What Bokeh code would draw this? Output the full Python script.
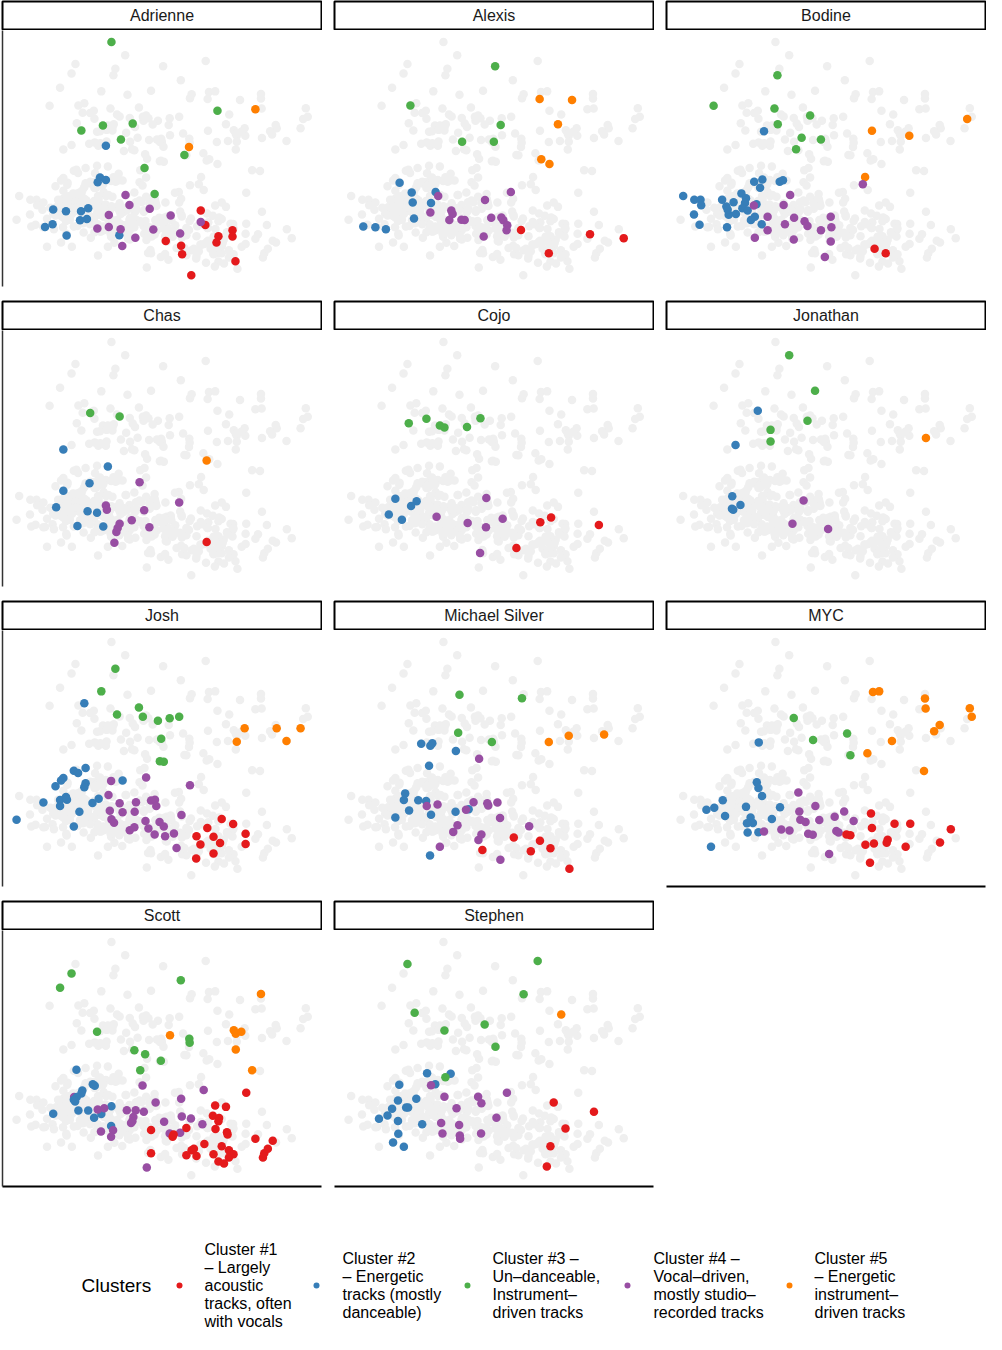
from bokeh.plotting import figure
from bokeh.layouts import row, column
from bokeh.core.properties import value
from bokeh.embed import file_html
from bokeh.resources import INLINE

# (x, y, cluster) per track
adrienne = [
    (33.3, 75.1, 3), (24.1, 48.2, 3), (30.7, 49.7, 3), (39.8, 50.3, 3), (36.2, 45.5, 3),
    (65.7, 54.2, 3), (55.6, 40.8, 3), (43.4, 36.8, 3), (46.5, 28.9, 3),
    (77.3, 54.7, 5), (57.0, 43.2, 5),
    (31.6, 43.6, 2), (29.8, 33.9, 2), (29.1, 32.5, 2), (31.6, 33.2, 2), (15.5, 24.2, 2),
    (19.4, 23.7, 2), (24.0, 23.7, 2), (26.2, 24.6, 2), (23.7, 20.9, 2), (25.8, 21.3, 2),
    (13.0, 18.9, 2), (15.3, 19.7, 2), (19.6, 16.3, 2), (35.7, 16.4, 2),
    (37.6, 28.6, 4), (38.8, 25.6, 4), (45.0, 24.4, 4), (51.4, 22.4, 4), (32.5, 22.5, 4),
    (29.0, 18.4, 4), (32.5, 18.9, 4), (36.1, 18.2, 4), (46.1, 18.1, 4), (40.6, 15.6, 4),
    (36.6, 13.1, 4), (54.3, 16.9, 4),
    (60.6, 23.9, 1), (62.0, 19.5, 1), (49.9, 14.6, 1), (54.6, 13.2, 1), (54.9, 10.6, 1),
    (66.0, 16.1, 1), (65.4, 14.2, 1), (70.3, 17.9, 1), (70.3, 16.0, 1), (71.2, 8.5, 1),
    (57.7, 4.2, 1), (60.6, 20.4, 4),
]
alexis = [
    (49.1, 67.7, 3), (23.2, 55.8, 3), (50.8, 49.9, 3), (39.0, 44.8, 3), (48.7, 44.8, 3),
    (62.7, 57.8, 5), (72.6, 57.5, 5), (68.3, 50.1, 5), (63.2, 39.5, 5), (65.7, 38.0, 5),
    (19.9, 32.3, 2), (23.6, 29.4, 2), (30.9, 29.5, 2), (23.9, 26.3, 2), (29.5, 26.2, 2),
    (24.3, 21.5, 2), (8.8, 19.0, 2), (12.5, 18.8, 2), (15.7, 18.2, 2),
    (31.7, 28.3, 4), (46.0, 27.1, 4), (53.9, 29.5, 4), (29.3, 23.3, 4), (35.7, 23.9, 4),
    (36.1, 22.8, 4), (35.1, 21.0, 4), (38.8, 21.1, 4), (39.8, 21.0, 4), (47.9, 21.7, 4),
    (51.0, 21.8, 4), (51.6, 20.9, 4), (52.8, 19.4, 4), (52.6, 17.9, 4), (45.6, 16.0, 4),
    (57.0, 18.0, 1), (65.5, 10.9, 1), (78.1, 16.7, 1), (88.4, 15.5, 1),
]
bodine = [
    (33.9, 65.0, 3), (14.4, 55.7, 3), (33.0, 54.9, 3), (43.9, 52.8, 3), (34.0, 50.1, 3),
    (41.3, 46.0, 3), (47.2, 45.5, 3), (39.6, 42.5, 3),
    (91.9, 51.7, 5), (62.8, 48.1, 5), (74.2, 46.6, 5), (60.7, 34.1, 5),
    (29.8, 48.0, 2), (26.8, 32.6, 2), (29.3, 33.3, 2), (28.6, 30.8, 2), (34.6, 32.6, 2),
    (35.6, 33.1, 2), (5.1, 28.3, 2), (8.5, 27.2, 2), (10.4, 27.2, 2), (10.6, 25.5, 2),
    (17.0, 27.2, 2), (18.3, 25.1, 2), (20.5, 26.4, 2), (22.9, 29.1, 2), (24.3, 27.6, 2),
    (24.0, 26.2, 2), (23.2, 24.6, 2), (21.2, 22.8, 2), (19.0, 22.6, 2), (18.7, 24.1, 2),
    (24.8, 23.9, 2), (27.5, 25.8, 2), (27.0, 22.0, 2), (25.8, 21.0, 2), (8.4, 22.7, 2),
    (10.1, 19.6, 2), (18.5, 18.8, 2), (29.1, 19.7, 2),
    (60.0, 31.9, 4), (37.8, 28.6, 4), (35.8, 25.6, 4), (26.7, 25.4, 4), (30.9, 22.0, 4),
    (39.0, 21.7, 4), (36.2, 19.7, 4), (42.2, 20.6, 4), (43.1, 19.2, 4), (50.2, 22.0, 4),
    (50.4, 18.8, 4), (47.2, 17.9, 4), (30.9, 17.9, 4), (27.0, 15.6, 4), (38.9, 15.1, 4),
    (50.2, 14.5, 4), (48.4, 9.8, 4),
    (63.6, 12.3, 1), (67.0, 10.9, 1),
]
chas = [
    (26.8, 53.5, 3), (35.8, 52.5, 3),
    (62.4, 39.1, 5),
    (18.6, 42.4, 2), (32.2, 37.3, 2), (26.6, 32.2, 2), (18.6, 29.9, 2), (16.4, 24.9, 2),
    (26.0, 23.7, 2), (28.9, 23.2, 2), (22.9, 19.2, 2), (30.8, 19.0, 2),
    (41.9, 32.5, 4), (54.0, 26.3, 4), (31.6, 25.4, 4), (31.9, 24.1, 4), (43.3, 24.0, 4),
    (39.5, 20.9, 4), (35.8, 19.9, 4), (35.2, 18.6, 4), (34.8, 17.4, 4), (44.9, 18.8, 4),
    (34.2, 14.1, 4),
    (62.4, 14.3, 1),
]
cojo = [
    (22.7, 50.4, 3), (28.1, 51.8, 3), (32.2, 49.7, 3), (33.6, 49.1, 3), (40.5, 49.3, 3),
    (44.6, 51.9, 3),
    (18.6, 27.5, 2), (25.1, 26.7, 2), (23.4, 25.3, 2), (16.6, 22.7, 2), (20.6, 21.1, 2),
    (46.4, 27.7, 4), (31.2, 22.0, 4), (40.7, 20.1, 4), (46.3, 18.8, 4), (51.4, 21.4, 4),
    (44.5, 11.0, 4),
    (62.9, 20.3, 1), (66.2, 21.8, 1), (80.8, 19.5, 1), (55.6, 12.5, 1),
]
jonathan = [
    (37.5, 71.1, 3), (45.4, 60.3, 3), (43.1, 51.2, 3), (31.8, 48.4, 3), (31.8, 44.9, 3),
    (79.3, 45.9, 5),
    (27.9, 54.2, 2), (21.1, 43.8, 2), (20.1, 28.2, 2), (22.6, 25.6, 2), (20.0, 24.4, 2),
    (20.4, 24.1, 2),
    (41.9, 26.9, 4), (38.5, 19.9, 4), (49.4, 18.3, 4),
]
josh = [
    (34.5, 67.0, 3), (30.2, 60.1, 3), (35.0, 53.1, 3), (41.7, 55.2, 3), (42.9, 52.4, 3),
    (47.5, 51.2, 3), (51.1, 51.9, 3), (54.0, 52.4, 3), (48.5, 45.7, 3), (48.1, 38.9, 3),
    (49.3, 38.7, 3),
    (74.0, 48.9, 5), (83.8, 48.9, 5), (91.1, 48.9, 5), (71.6, 44.8, 5), (86.8, 45.0, 5),
    (25.0, 56.5, 2), (21.8, 36.0, 2), (23.1, 35.3, 2), (25.4, 36.8, 2), (18.6, 33.8, 2),
    (17.9, 33.0, 2), (16.2, 31.3, 2), (25.4, 32.2, 2), (25.0, 31.0, 2), (19.4, 28.0, 2),
    (17.6, 27.1, 2), (19.7, 27.2, 2), (17.6, 25.3, 2), (12.5, 26.3, 2), (27.5, 26.2, 2),
    (29.4, 27.5, 2), (36.7, 33.0, 2), (23.5, 23.5, 2), (21.8, 19.0, 2), (4.3, 21.1, 2),
    (33.2, 32.9, 4), (43.9, 33.9, 4), (57.3, 31.6, 4), (32.4, 28.6, 4), (35.8, 26.1, 4),
    (40.8, 26.4, 4), (45.4, 26.9, 4), (46.6, 27.2, 4), (47.0, 25.3, 4), (32.8, 23.8, 4),
    (36.7, 23.4, 4), (40.4, 23.5, 4), (33.3, 21.2, 4), (34.1, 20.2, 4), (38.9, 17.9, 4),
    (40.3, 18.8, 4), (43.7, 20.7, 4), (44.6, 18.4, 4), (48.0, 20.4, 4), (49.3, 19.0, 4),
    (46.5, 16.6, 4), (49.7, 16.1, 4), (52.4, 16.9, 4), (54.7, 22.5, 4), (53.2, 12.5, 4),
    (67.0, 21.3, 1), (70.5, 19.8, 1), (62.6, 18.6, 1), (74.3, 16.8, 1), (59.3, 16.1, 1),
    (64.5, 15.9, 1), (60.5, 13.6, 1), (66.5, 14.0, 1), (74.3, 13.7, 1), (64.5, 10.8, 1),
    (59.2, 9.3, 1),
]
michael_silver = [
    (38.2, 59.1, 3), (57.3, 58.0, 3), (37.8, 47.5, 3), (48.1, 44.7, 3),
    (65.5, 44.7, 5), (71.6, 46.6, 5), (82.4, 47.0, 5),
    (26.5, 44.2, 2), (29.3, 43.6, 2), (29.9, 44.3, 2), (37.1, 42.0, 2), (28.9, 37.5, 2),
    (21.6, 29.1, 2), (21.2, 27.1, 2), (25.6, 27.0, 2), (28.0, 26.8, 2), (22.8, 23.9, 2),
    (18.6, 21.8, 2), (29.5, 22.6, 2), (37.0, 23.5, 2), (41.0, 24.3, 2), (29.2, 10.2, 2),
    (44.2, 39.6, 4), (28.2, 25.3, 4), (31.5, 25.7, 4), (42.5, 26.4, 4), (46.7, 26.1, 4),
    (47.0, 25.4, 4), (49.8, 26.3, 4), (40.2, 24.1, 4), (50.6, 21.6, 4), (37.6, 19.4, 4),
    (36.3, 17.4, 4), (44.9, 16.6, 4), (44.0, 14.9, 4), (59.5, 19.1, 4), (32.2, 12.9, 4),
    (50.7, 8.9, 4),
    (54.8, 15.7, 1), (62.8, 14.7, 1), (66.0, 12.4, 1), (60.0, 11.5, 1), (45.2, 11.9, 1),
    (71.8, 6.2, 1),
]
myc = [
    (38.9, 52.0, 3), (44.8, 45.3, 3), (55.2, 47.3, 3), (56.2, 40.7, 3),
    (63.1, 59.9, 5), (65.0, 60.1, 5), (79.0, 57.9, 5), (79.2, 54.9, 5), (92.7, 55.0, 5),
    (93.3, 52.4, 5), (83.5, 49.9, 5), (81.8, 48.0, 5), (68.9, 45.0, 5), (61.4, 41.3, 5),
    (78.7, 35.9, 5),
    (28.2, 44.6, 2), (27.6, 32.5, 2), (28.1, 30.7, 2), (29.2, 28.3, 2), (17.2, 27.0, 2),
    (14.6, 24.7, 2), (12.2, 24.1, 2), (17.9, 22.2, 2), (24.3, 25.0, 2), (34.7, 24.9, 2),
    (32.2, 21.3, 2), (25.7, 21.8, 2), (26.4, 20.1, 2), (24.6, 20.0, 2), (24.8, 17.2, 2),
    (28.1, 17.3, 2), (13.6, 12.9, 2),
    (40.3, 29.4, 4), (45.5, 25.3, 4), (40.6, 23.6, 4), (54.3, 23.6, 4), (51.4, 22.0, 4),
    (57.2, 20.7, 4), (40.9, 21.1, 4), (42.5, 20.4, 4), (46.7, 21.0, 4), (29.8, 17.5, 4),
    (35.1, 18.1, 4), (37.6, 17.8, 4), (43.3, 16.8, 4), (44.7, 16.5, 4), (51.9, 17.7, 4),
    (52.6, 17.2, 4), (49.7, 10.7, 4),
    (62.5, 23.0, 1), (62.8, 18.6, 1), (69.7, 19.9, 1), (74.5, 19.9, 1), (86.9, 18.2, 1),
    (55.0, 16.6, 1), (56.2, 16.4, 1), (60.8, 13.5, 1), (63.4, 13.9, 1), (67.6, 15.0, 1),
    (67.3, 14.1, 1), (73.1, 12.9, 1), (83.6, 14.2, 1), (62.2, 8.0, 1),
]
scott = [
    (21.1, 65.5, 3), (17.6, 61.2, 3), (54.5, 63.5, 3), (28.9, 47.8, 3), (57.1, 45.7, 3),
    (57.2, 44.5, 3), (40.3, 42.2, 3), (43.6, 41.0, 3), (48.4, 39.0, 3), (42.1, 36.1, 3),
    (79.0, 59.3, 5), (51.2, 46.8, 5), (70.7, 48.3, 5), (71.3, 47.2, 5), (73.0, 47.8, 5),
    (71.3, 42.4, 5), (76.3, 36.1, 5),
    (21.9, 28.0, 4),
    (22.6, 36.3, 2), (27.6, 31.9, 2), (28.2, 31.4, 2), (24.4, 30.0, 2), (24.1, 29.1, 2),
    (22.7, 28.0, 2), (21.8, 27.2, 2), (22.2, 26.6, 2), (23.2, 23.9, 2), (26.2, 23.9, 2),
    (28.0, 21.7, 2), (30.2, 22.8, 2), (33.3, 25.2, 2), (15.5, 22.9, 2), (33.2, 19.2, 2),
    (42.8, 31.5, 4), (61.5, 30.1, 4), (54.6, 27.5, 4), (46.8, 26.3, 4), (29.1, 24.2, 4),
    (31.1, 24.6, 4), (38.0, 24.0, 4), (40.7, 24.0, 4), (43.2, 23.5, 4), (40.0, 21.9, 4),
    (39.7, 20.6, 4), (39.3, 20.1, 4), (54.8, 22.1, 4), (57.6, 21.5, 4), (49.4, 20.5, 4),
    (61.1, 19.7, 4), (33.8, 17.9, 4), (30.1, 17.5, 4), (33.2, 15.9, 4), (51.1, 16.9, 4),
    (54.3, 17.1, 4), (44.1, 6.6, 4),
    (74.5, 29.3, 1), (65.0, 25.4, 1), (68.3, 25.0, 1), (64.3, 22.3, 1), (66.2, 21.6, 1),
    (66.0, 20.6, 1), (65.1, 18.3, 1), (68.6, 17.3, 1), (68.8, 16.6, 1), (56.2, 18.6, 1),
    (45.4, 18.0, 1), (52.0, 15.9, 1), (52.3, 16.6, 1), (77.3, 15.3, 1), (82.6, 14.7, 1),
    (61.7, 13.7, 1), (58.5, 12.3, 1), (57.8, 11.8, 1), (67.0, 13.0, 1), (69.2, 11.8, 1),
    (70.6, 10.6, 1), (69.2, 9.6, 1), (56.2, 10.3, 1), (59.3, 10.1, 1), (64.5, 10.6, 1),
    (66.0, 8.4, 1), (67.7, 7.8, 1), (45.4, 10.9, 1), (79.6, 9.6, 1), (80.0, 10.9, 1),
    (81.1, 12.3, 1),
]
stephen = [
    (22.3, 68.4, 3), (62.1, 69.3, 3), (57.8, 59.2, 3), (24.5, 53.6, 3), (45.9, 50.0, 3),
    (33.6, 48.2, 3), (49.2, 43.3, 3),
    (69.3, 53.1, 5),
    (28.3, 35.2, 2), (35.5, 35.1, 2), (30.8, 31.9, 2), (19.8, 31.7, 2), (25.0, 27.5, 2),
    (19.4, 26.9, 2), (21.9, 24.8, 2), (22.5, 24.8, 2), (17.6, 24.4, 2), (16.2, 22.4, 2),
    (13.6, 21.4, 2), (19.4, 20.7, 2), (26.8, 19.7, 2), (19.5, 16.8, 2), (17.9, 14.2, 2),
    (21.2, 12.9, 2),
    (33.9, 34.0, 3),
    (29.5, 31.6, 4), (33.6, 28.1, 4), (43.9, 28.1, 4), (44.9, 26.1, 4), (52.7, 29.3, 4),
    (37.3, 24.6, 4), (49.5, 21.7, 4), (32.6, 20.1, 4), (38.1, 19.5, 4), (33.0, 16.9, 4),
    (38.3, 16.3, 4), (38.4, 15.3, 4), (44.8, 16.9, 4),
    (67.0, 26.3, 1), (79.3, 23.5, 1), (70.6, 18.4, 1), (66.0, 13.0, 1), (64.9, 6.9, 1),
]

names = ["Adrienne", "Alexis", "Bodine", "Chas", "Cojo", "Jonathan",
         "Josh", "Michael Silver", "MYC", "Scott", "Stephen"]
tracks = [adrienne, alexis, bodine, chas, cojo, jonathan,
          josh, michael_silver, myc, scott, stephen]

cluster_colors = ["#e41a1c", "#377eb8", "#4daf4a", "#984ea3", "#ff7f00"]
cluster_labels = [
    "Cluster #1\n– Largely\nacoustic\ntracks, often\nwith vocals",
    "Cluster #2\n– Energetic\ntracks (mostly\ndanceable)",
    "Cluster #3 –\nUn–danceable,\nInstrument–\ndriven tracks",
    "Cluster #4 –\nVocal–driven,\nmostly studio–\nrecorded tracks",
    "Cluster #5\n– Energetic\ninstrument–\ndriven tracks",
]

FONT = value("Liberation Sans")
PW, SH, PH = 322, 30, 258

all_x = [t[0] for person in tracks for t in person]
all_y = [t[1] for person in tracks for t in person]


def strip(name):
    s = figure(width=PW, height=SH, x_range=(0, 1), y_range=(0, 1), tools="",
               toolbar_location=None, output_backend="svg", min_border=1)
    s.axis.visible = False
    s.grid.visible = False
    s.outline_line_color = "black"
    s.outline_line_width = 2
    s.text(x=[0.5], y=[0.5], text=[name], text_font=FONT, text_font_size="16px",
           text_align="center", text_baseline="middle", text_color="#1a1a1a")
    return s


def panel(name, pts, left, bottom):
    p = figure(width=PW, height=PH, x_range=(0, 97.5), y_range=(0.8, 78.6), tools="",
               toolbar_location=None, output_backend="svg", min_border=0,
               min_border_left=2, min_border_bottom=2)
    p.grid.visible = False
    p.outline_line_color = None
    p.xaxis.ticker = []
    p.yaxis.ticker = []
    p.axis.major_label_text_font_size = "0px"
    p.axis.major_tick_line_color = None
    p.axis.minor_tick_line_color = None
    p.axis.major_label_standoff = 0
    p.xaxis.axis_line_color = "black" if bottom else None
    p.xaxis.axis_line_width = 2
    p.yaxis.axis_line_color = "#333333" if left else None
    p.yaxis.axis_line_width = 1.5

    p.scatter(all_x, all_y, size=8.5, fill_color="#efefef", line_color=None)
    p.scatter([t[0] for t in pts], [t[1] for t in pts], size=8.5,
              fill_color=[cluster_colors[t[2] - 1] for t in pts], line_color=None)
    return column(strip(name), p, spacing=0)


left_names = {"Adrienne", "Chas", "Josh", "Scott"}
bottom_names = {"MYC", "Scott", "Stephen"}
cells = [panel(n, t, n in left_names, n in bottom_names) for n, t in zip(names, tracks)]
rows = [row(cells[i:i + 3], spacing=10) for i in range(0, len(cells), 3)]
grid = column(rows, spacing=12)

# legend
leg = figure(width=986, height=144, x_range=(0, 986), y_range=(0, 144), tools="",
             toolbar_location=None, output_backend="svg", min_border=0)
leg.axis.visible = False
leg.grid.visible = False
leg.outline_line_color = None
mid = 47
key_x = [179, 316, 467, 627, 789]
label_x = [204, 342, 492, 653, 814]
leg.text(x=[81], y=[mid], text=["Clusters"], text_font=FONT, text_font_size="19px",
         text_baseline="middle", text_color="black")
leg.scatter(key_x, [mid] * 5, size=6, fill_color=cluster_colors, line_color=None)
leg.text(x=label_x, y=[mid] * 5, text=cluster_labels, text_font=FONT,
         text_font_size="16px", text_line_height=1.05, text_baseline="middle",
         text_color="black")

page = column(grid, leg, spacing=0)

open("out.html", "w").write(file_html(page, INLINE))
